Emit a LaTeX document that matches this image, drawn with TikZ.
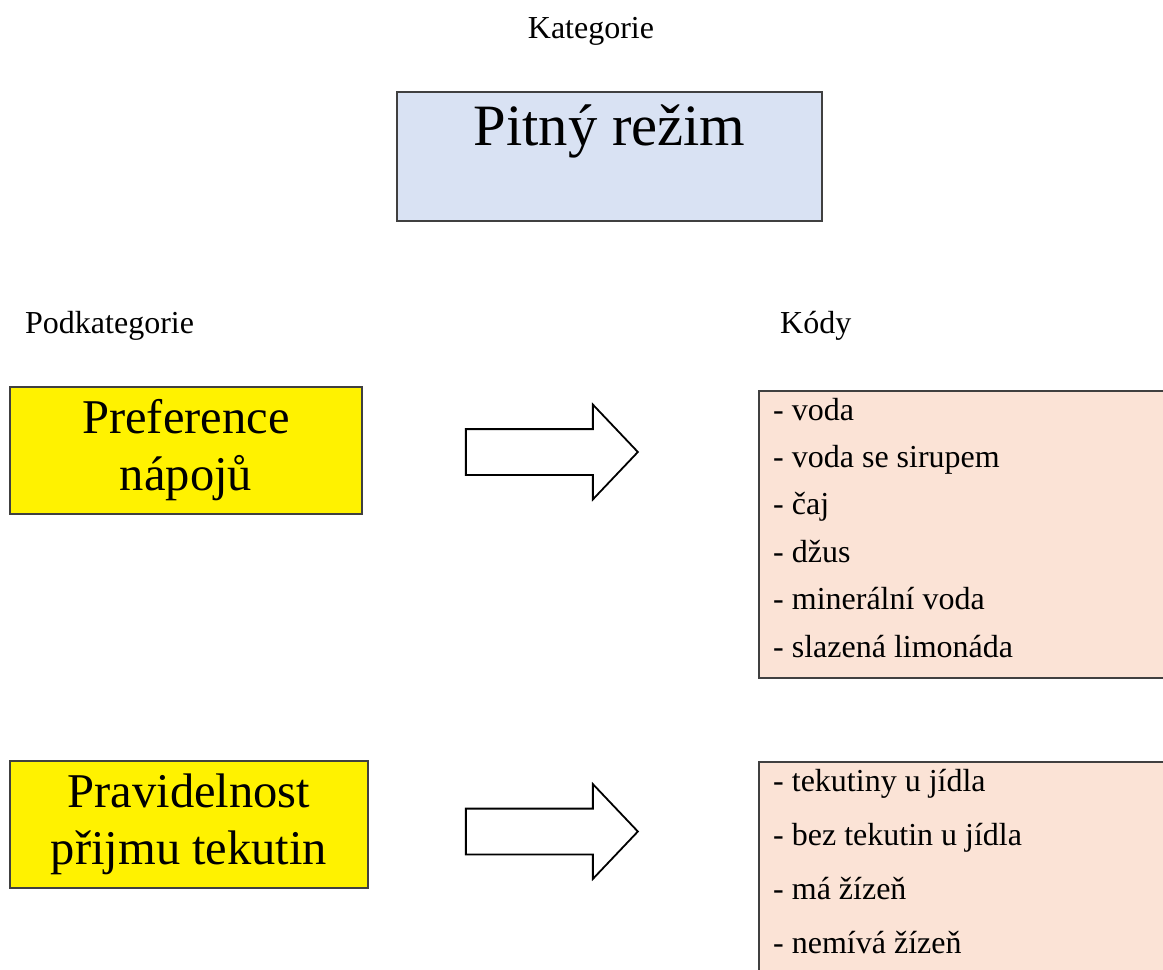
\documentclass[tikz,border=0pt]{standalone}
\usepackage{fontspec}
\setmainfont{Liberation Serif}
\usetikzlibrary{shapes.arrows}

\definecolor{titleblue}{HTML}{D9E2F3}
\definecolor{kodpink}{HTML}{FBE3D6}
\definecolor{boxline}{HTML}{404040}

\begin{document}
\begin{tikzpicture}[x=1pt,y=-1pt,
    small/.style={font=\fontsize{32}{38}\selectfont,inner sep=0pt},
    subbox/.style={draw=boxline,line width=1.3pt,fill=yellow,align=center,
        font=\fontsize{48.5}{57}\selectfont,inner sep=0pt,minimum height=127pt},
    kodbox/.style={draw=boxline,line width=1.3pt,fill=kodpink},
    kod/.style={small,anchor=base west},
    bigarrow/.style={single arrow,draw=black,line width=1.8pt,fill=white,
        inner sep=22pt,single arrow head extend=24.5pt,
        single arrow tip angle=93,minimum height=172pt}]

    \clip (0, 0) rectangle (1163, 970);

    %%%%%%%%%%%%%%%%%%%%%%%%%%%%%%%%%%%
    % headings
    \node[small,anchor=base] (kat) at (591, 38) {Kategorie};
    \node[small,anchor=base west] (podkat) at (25, 333) {Podkategorie};
    \node[small,anchor=base west] (kody) at (780, 333) {Kódy};

    % category
    \node[draw=boxline,line width=1.3pt,fill=titleblue,anchor=base,
        minimum width=425pt,inner sep=0pt,text height=53pt,text depth=76pt,
        font=\fontsize{58.6}{70}\selectfont] (rezim) at (609.5, 145) {Pitný režim};
    %%%%%%%%%%%%%%%%%%%%%%%%%%%%%%%%%%%

    %%%%%%%%%%%%%%%%%%%%%%%%%%%%%%%%%%%
    % preference -> codes
    \node[subbox,minimum width=352pt] (prefA) at (186, 450.5) {Preference\\nápojů};
    \node[bigarrow] (arrA) at (541, 452) {};
    \node[kodbox,minimum width=441pt,minimum height=287pt] (kodyA) at (979.5, 534.5) {};
    \foreach \t [count=\i from 0] in {voda, voda se sirupem, čaj, džus,
        minerální voda, slazená limonáda}
        \node[kod] (kA\i) at (773, {420+47.4*\i}) {- \t};
    %%%%%%%%%%%%%%%%%%%%%%%%%%%%%%%%%%%

    %%%%%%%%%%%%%%%%%%%%%%%%%%%%%%%%%%%
    % regularity -> codes
    \node[subbox,minimum width=358pt] (prefB) at (189, 824.5) {Pravidelnost\\přijmu tekutin};
    \node[bigarrow] (arrB) at (541, 831.5) {};
    \node[kodbox,minimum width=441pt,minimum height=238pt] (kodyB) at (979.5, 881) {};
    \foreach \t [count=\i from 0] in {tekutiny u jídla, bez tekutin u jídla,
        má žízeň, nemívá žízeň}
        \node[kod] (kB\i) at (773, {791+54*\i}) {- \t};
    %%%%%%%%%%%%%%%%%%%%%%%%%%%%%%%%%%%

\end{tikzpicture}
\end{document}
